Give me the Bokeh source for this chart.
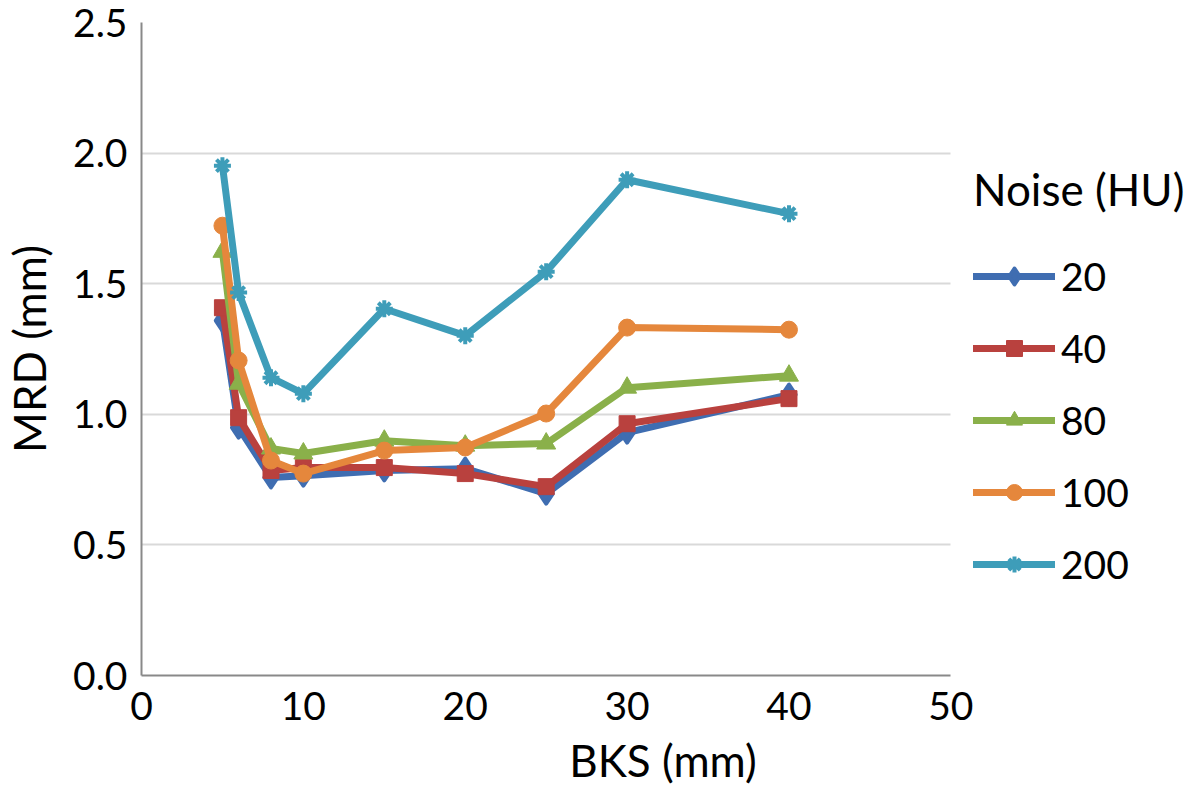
from bokeh.plotting import figure
from bokeh.models import Legend, LegendItem, FixedTicker, NumeralTickFormatter, Range1d
from bokeh.embed import file_html
from bokeh.resources import INLINE

bks = [5, 6, 8, 10, 15, 20, 25, 30, 40]
noise_labels = ["20", "40", "80", "100", "200"]
mrd_20 = [1.359, 0.949, 0.758, 0.765, 0.785, 0.792, 0.696, 0.930, 1.075]
mrd_40 = [1.408, 0.987, 0.785, 0.796, 0.796, 0.773, 0.723, 0.964, 1.060]
mrd_80 = [1.622, 1.117, 0.869, 0.850, 0.899, 0.880, 0.888, 1.102, 1.148]
mrd_100 = [1.722, 1.206, 0.823, 0.773, 0.861, 0.873, 1.003, 1.332, 1.324]
mrd_200 = [1.952, 1.466, 1.140, 1.079, 1.404, 1.301, 1.546, 1.898, 1.768]
x_ticks = [0, 10, 20, 30, 40, 50]
y_ticks = [0.0, 0.5, 1.0, 1.5, 2.0, 2.5]

series = [mrd_20, mrd_40, mrd_80, mrd_100, mrd_200]
colors = ["#3F6DB1", "#B9413E", "#8AB04A", "#E5873C", "#3E9DB9"]
markers = ["diamond", "square", "triangle", "circle", "asterisk"]
msizes = [20, 16, 19, 17, 17]
mlines = [4, 1, 1, 1, 4]

FONT = "Lato"

W, H = 1184, 789
LEFT, RIGHT_AX, TOP, BOTTOM = 135, 949, 22, 675
x_max = x_ticks[-1]
# frame extends to the right edge so the legend can sit inside it; axis stops at 50
x_end = x_max * (W - LEFT) / (RIGHT_AX - LEFT)

p = figure(width=W, height=H, output_backend="svg", toolbar_location=None,
           x_range=Range1d(0, x_end), y_range=Range1d(y_ticks[0], y_ticks[-1]),
           min_border_left=LEFT, min_border_right=0, min_border_top=TOP,
           min_border_bottom=H - BOTTOM)
p.outline_line_color = None
p.background_fill_color = "white"

p.xaxis.ticker = FixedTicker(ticks=x_ticks)
p.yaxis.ticker = FixedTicker(ticks=y_ticks)
p.yaxis.formatter = NumeralTickFormatter(format="0.0")
p.xaxis.bounds = (x_ticks[0], x_ticks[-1])

for ax in (p.xaxis[0], p.yaxis[0]):
    ax.axis_line_color = "#898989"
    ax.axis_line_width = 2
    ax.major_tick_line_color = None
    ax.minor_tick_line_color = None
    ax.major_label_text_font = FONT
    ax.major_label_text_font_size = "39px"
    ax.major_label_text_color = "black"
    ax.axis_label_text_font = FONT
    ax.axis_label_text_font_size = "44px"
    ax.axis_label_text_font_style = "normal"
    ax.axis_label_text_color = "black"

p.xaxis.axis_label = "BKS (mm)"
p.yaxis.axis_label = "MRD (mm)"
p.xaxis.major_label_standoff = 10
p.yaxis.major_label_standoff = 8
p.xaxis.axis_label_standoff = 11
p.yaxis.axis_label_standoff = 15

p.xgrid.grid_line_color = None
p.ygrid.grid_line_color = "#D9D9D9"
p.ygrid.grid_line_width = 2
p.ygrid.cross_bounds = (x_ticks[0], x_ticks[-1])

items = []
for lab, ys, c, m, s, lw in zip(noise_labels, series, colors, markers, msizes, mlines):
    l = p.line(bks, ys, line_color=c, line_width=7, line_join="round", line_cap="round")
    if m == "asterisk":
        sc = p.scatter(bks, ys, marker=m, size=s, line_color=c, line_width=lw)
    else:
        sc = p.scatter(bks, ys, marker=m, size=s, fill_color=c, line_color=c,
                       line_width=lw, line_join="round")
    items.append(LegendItem(label=lab, renderers=[l, sc]))

legend = Legend(items=items, location=(832, 88), orientation="vertical",
                title="Noise (HU)", title_text_font=FONT, title_text_font_size="44px",
                title_text_font_style="normal", title_text_color="black", title_standoff=38,
                label_text_font=FONT, label_text_font_size="39px", label_text_color="black",
                glyph_width=82, glyph_height=40, label_height=40, label_standoff=6,
                spacing=26, padding=0, margin=0,
                border_line_color=None, background_fill_alpha=0)
p.add_layout(legend, "center")

open("out.html", "w").write(file_html(p, INLINE))
